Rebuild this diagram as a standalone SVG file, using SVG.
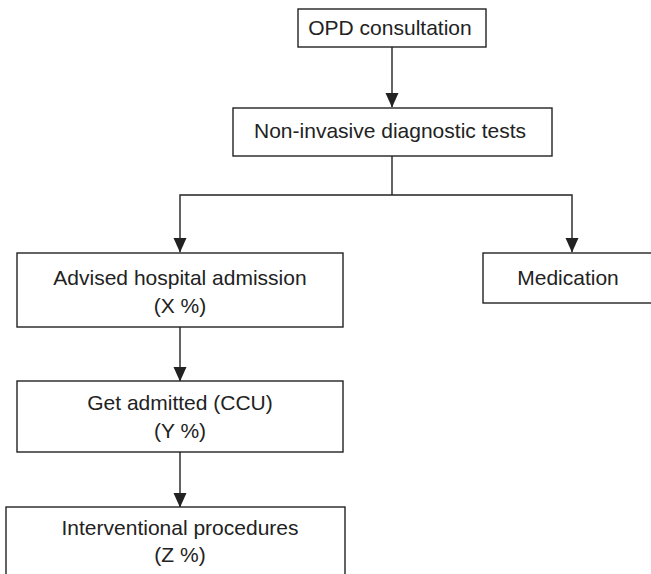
<svg xmlns="http://www.w3.org/2000/svg" width="651" height="574" viewBox="0 0 651 574">
  <defs>
    <style>
      .box { fill: #ffffff; stroke: #222222; stroke-width: 1.4; }
      .lbl { font-family: "Liberation Sans", Arial, Helvetica, sans-serif; font-size: 21px; fill: #222222; text-anchor: middle; }
      .wire { fill: none; stroke: #222222; stroke-width: 1.4; }
    </style>
    <!-- solid downward-pointing head, tip at the end of the line -->
    <marker id="tip" markerUnits="userSpaceOnUse" markerWidth="15" markerHeight="15" viewBox="0 0 15 15" refX="14" refY="7.5" orient="auto">
      <path d="M0,1 L14.5,7.5 L0,14 Z" fill="#222222"/>
    </marker>
  </defs>

  <rect width="651" height="574" fill="#ffffff"/>

  <g id="connectors">
    <line class="wire" x1="392" y1="47" x2="392" y2="107" marker-end="url(#tip)"/>
    <polyline class="wire" points="392,156 392,195"/>
    <polyline class="wire" points="392,195 180,195 180,252" marker-end="url(#tip)"/>
    <polyline class="wire" points="392,195 572,195 572,252" marker-end="url(#tip)"/>
    <line class="wire" x1="180" y1="327" x2="180" y2="381" marker-end="url(#tip)"/>
    <line class="wire" x1="180" y1="452" x2="180" y2="507" marker-end="url(#tip)"/>
  </g>

  <g id="opd">
    <rect class="box" x="298" y="9" width="188" height="38"/>
    <text class="lbl" x="390" y="35">OPD consultation</text>
  </g>

  <g id="tests">
    <rect class="box" x="233" y="108" width="319" height="48"/>
    <text class="lbl" x="390" y="138">Non-invasive diagnostic tests</text>
  </g>

  <g id="advised">
    <rect class="box" x="17" y="253" width="326" height="74"/>
    <text class="lbl" x="180" y="285">Advised hospital admission</text>
    <text class="lbl" x="180" y="313">(X %)</text>
  </g>

  <g id="medication">
    <rect class="box" x="483" y="253" width="180" height="50"/>
    <text class="lbl" x="568" y="285">Medication</text>
  </g>

  <g id="admitted">
    <rect class="box" x="17" y="381" width="326" height="71"/>
    <text class="lbl" x="180" y="410">Get admitted (CCU)</text>
    <text class="lbl" x="180" y="438">(Y %)</text>
  </g>

  <g id="procedures">
    <rect class="box" x="6" y="507" width="339" height="80"/>
    <text class="lbl" x="180" y="535">Interventional procedures</text>
    <text class="lbl" x="180" y="562">(Z %)</text>
  </g>
</svg>
